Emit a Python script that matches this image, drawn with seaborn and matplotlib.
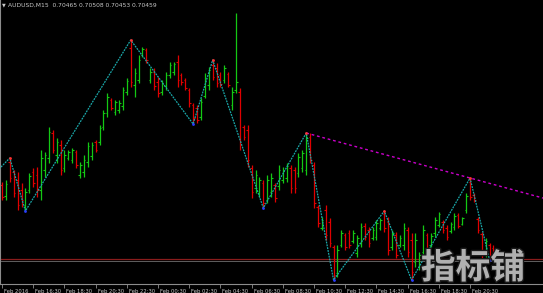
import matplotlib
matplotlib.use("Agg")
import matplotlib.pyplot as plt
import matplotlib.patheffects as pe
from matplotlib.transforms import ScaledTranslation
import numpy as np
import pandas as pd
import seaborn as sns

# ---------------- data (prices in points, 1 point = 0.00001) ----------------
POINT = 1e-5
bar_open = [70829, 70774, 70944, 70894, 70854, 70804, 70729, 70804, 70894, 70879,
            70804, 70904, 70964, 71089, 70979, 71029, 70914, 70964, 70954, 70994,
            70879, 70894, 70944, 70974, 71044, 71044, 71119, 71189, 71254, 71194,
            71204, 71224, 71294, 71514, 71329, 71354, 71479, 71504, 71354, 71394,
            71344, 71294, 71324, 71379, 71394, 71444, 71379, 71354, 71304, 71229,
            71214, 71169, 71274, 71329, 71429, 71414, 71379, 71354, 71384, 71229,
            71304, 71294, 71119, 71104, 70914, 70814, 70789, 70839, 70754, 70794,
            70829, 70824, 70854, 70864, 70914, 70904, 70889, 70914, 70904, 71069,
            70929, 70719, 70614, 70704, 70644, 70519, 70389, 70529, 70579, 70589,
            70549, 70489, 70539, 70624, 70604, 70564, 70569, 70614, 70684, 70644,
            70519, 70579, 70529, 70529, 70604, 70554, 70444, 70419, 70494, 70579,
            70529, 70589, 70629, 70644, 70614, 70599, 70619, 70679, 70634, 70704,
            70844, 70779, 70659, 70584, 70484, 70529, 70514, 70465]
bar_high = [70844, 70854, 70964, 70904, 70894, 70839, 70814, 70889, 70914, 70919,
            71004, 70994, 71119, 71104, 71064, 71054, 71004, 71004, 71014, 71004,
            70944, 70979, 71044, 71044, 71054, 71129, 71204, 71289, 71264, 71254,
            71254, 71319, 71364, 71554, 71414, 71479, 71519, 71514, 71414, 71414,
            71369, 71354, 71394, 71444, 71444, 71479, 71389, 71364, 71314, 71239,
            71229, 71264, 71389, 71419, 71454, 71439, 71394, 71429, 71394, 71319,
            71689, 71314, 71129, 71129, 70929, 70904, 70869, 70854, 70879, 70889,
            70839, 70929, 70919, 70939, 70929, 70919, 70989, 71004, 71089, 71089,
            70944, 70729, 70669, 70729, 70664, 70529, 70529, 70604, 70589, 70604,
            70604, 70579, 70639, 70639, 70619, 70619, 70654, 70664, 70699, 70669,
            70604, 70594, 70579, 70639, 70619, 70589, 70589, 70494, 70629, 70589,
            70589, 70669, 70694, 70654, 70629, 70644, 70689, 70689, 70669, 70789,
            70864, 70789, 70669, 70594, 70564, 70539, 70529, 70508]
bar_low = [70754, 70754, 70844, 70769, 70704, 70719, 70699, 70789, 70819, 70769,
           70754, 70869, 70939, 70989, 70939, 70879, 70894, 70954, 70939, 70914,
           70864, 70869, 70919, 70954, 70994, 71029, 71104, 71169, 71204, 71179,
           71189, 71204, 71279, 71319, 71269, 71339, 71469, 71439, 71339, 71304,
           71269, 71279, 71304, 71364, 71379, 71319, 71329, 71304, 71219, 71134,
           71139, 71154, 71264, 71304, 71354, 71319, 71319, 71339, 71319, 71204,
           71289, 71004, 71054, 70919, 70764, 70789, 70769, 70714, 70739, 70769,
           70744, 70804, 70839, 70844, 70789, 70789, 70869, 70894, 70879, 70939,
           70714, 70619, 70604, 70554, 70519, 70354, 70369, 70519, 70504, 70514,
           70539, 70469, 70519, 70554, 70519, 70554, 70554, 70604, 70594, 70479,
           70504, 70464, 70519, 70504, 70469, 70354, 70419, 70404, 70469, 70489,
           70519, 70569, 70619, 70589, 70554, 70589, 70604, 70614, 70629, 70689,
           70754, 70744, 70589, 70464, 70469, 70454, 70469, 70453]
bar_close = [70769, 70834, 70864, 70789, 70729, 70754, 70794, 70874, 70839, 70804,
             70964, 70979, 71094, 71004, 71044, 70904, 70979, 70994, 71004, 70929,
             70929, 70954, 71024, 71029, 71004, 71114, 71189, 71269, 71214, 71244,
             71239, 71304, 71349, 71344, 71389, 71454, 71509, 71454, 71394, 71324,
             71289, 71334, 71379, 71429, 71434, 71354, 71344, 71314, 71239, 71164,
             71154, 71244, 71364, 71404, 71369, 71339, 71334, 71414, 71329, 71294,
             71344, 71029, 71069, 70954, 70794, 70879, 70854, 70739, 70854, 70864,
             70764, 70904, 70904, 70924, 70814, 70814, 70969, 70989, 71064, 70954,
             70739, 70639, 70654, 70579, 70539, 70379, 70504, 70589, 70519, 70529,
             70589, 70564, 70619, 70569, 70539, 70604, 70639, 70654, 70614, 70504,
             70589, 70479, 70564, 70614, 70494, 70394, 70554, 70479, 70604, 70504,
             70574, 70654, 70684, 70604, 70569, 70634, 70674, 70624, 70664, 70774,
             70769, 70754, 70604, 70484, 70549, 70469, 70489, 70459]

# ZigZag pivots (bar index, price in points)
zz_index = [-3, 2, 6, 33, 49, 54, 67, 78, 85, 98, 105, 120, 125]
zz_price = [70864, 70964, 70699, 71554, 71134, 71454, 70714, 71089, 70354, 70699,
            70354, 70864, 70454]

# Trend line through two highs
trend_index = [78, 120]
trend_price = [71089, 70864]

# horizontal levels
red_level = 70459
gray_level = 70449

tick_positions = [0, 8, 16, 24, 32, 40, 48, 56, 64, 72, 80, 88, 96, 104, 112, 120]
tick_labels = ["Feb 2016", "Feb 16:30", "Feb 18:30", "Feb 20:30",
               "Feb 22:30", "Feb 00:30", "Feb 02:30", "Feb 04:30",
               "Feb 06:30", "Feb 08:30", "Feb 10:30", "Feb 12:30",
               "Feb 14:30", "Feb 16:30", "Feb 18:30", "Feb 20:30"]

title_text = "AUDUSD,M15  0.70465 0.70508 0.70453 0.70459"
watermark = "指标铺"

# ---------------- build frames ----------------
bars = pd.DataFrame({
    "idx": np.arange(len(bar_open)),
    "open": np.array(bar_open) * POINT,
    "high": np.array(bar_high) * POINT,
    "low": np.array(bar_low) * POINT,
    "close": np.array(bar_close) * POINT,
})
zz = pd.DataFrame({"idx": zz_index, "price": np.array(zz_price) * POINT})

XMIN, XMAX = -0.513, 138.7
slope = (trend_price[1] - trend_price[0]) / (trend_index[1] - trend_index[0])
trend = pd.DataFrame({
    "idx": [trend_index[0], XMAX + 1],
    "price": np.array([trend_price[0], trend_price[0] + slope * (XMAX + 1 - trend_index[0])]) * POINT,
})

# ---------------- style ----------------
sns.set_theme(style="dark")
plt.rcParams["font.family"] = ["DejaVu Sans"]
plt.rcParams["axes.facecolor"] = "black"
plt.rcParams["figure.facecolor"] = "black"

fig = plt.figure(figsize=(5.43, 2.93), dpi=100, facecolor="black")
ax = fig.add_axes([0, 9 / 293, 1, 284 / 293], facecolor="black")

GREEN = "#14c814"
RED = "#e00000"

# horizontal levels
ax.axhline(red_level * POINT, color="#8a1c1c", lw=0.9, zorder=1)
ax.axhline(gray_level * POINT, color="#6e6e6e", lw=0.6, zorder=1)

# OHLC bars
up = bars["close"] >= bars["open"]
for mask, col in ((up, GREEN), (~up, RED)):
    b = bars[mask]
    ax.vlines(b["idx"], b["low"], b["high"], color=col, lw=0.9, zorder=2)
    ax.hlines(b["open"], b["idx"] - 0.4, b["idx"], color=col, lw=0.8, zorder=2)
    ax.hlines(b["close"], b["idx"], b["idx"] + 0.4, color=col, lw=0.8, zorder=2)

# zigzag (dotted, MT4 style)
sns.lineplot(data=zz, x="idx", y="price", sort=False, ax=ax, color="#1aa8aa",
             lw=0.9, linestyle=(0, (1.5, 0.8)), zorder=3, estimator=None)
lows = zz.iloc[[2, 4, 6, 8, 10, 12]]
highs = zz.iloc[[1, 3, 5, 7, 9, 11]]
sns.scatterplot(data=lows, x="idx", y="price", ax=ax, color="#2a3cff", s=4,
                linewidth=0, zorder=4)
sns.scatterplot(data=highs, x="idx", y="price", ax=ax, color="#ff3030", s=4,
                linewidth=0, zorder=4)

# trend line
sns.lineplot(data=trend, x="idx", y="price", ax=ax, color="#cc00cc", lw=1.0,
             linestyle=(0, (2, 2)), zorder=3, estimator=None)

ax.set_xlim(XMIN, XMAX)
ax.set_ylim(70334 * POINT, 71754 * POINT)
ax.set_xlabel("")
ax.set_ylabel("")
ax.set_yticks([])
ax.grid(False)

for s in ("top", "right"):
    ax.spines[s].set_visible(False)
for s in ("left", "bottom"):
    ax.spines[s].set_visible(True)
    ax.spines[s].set_color("#8c8c8c")
    ax.spines[s].set_linewidth(0.8)

ax.set_xticks(tick_positions)
ax.set_xticklabels(tick_labels)
ax.tick_params(axis="x", colors="#8c8c8c", length=3, width=0.6, direction="out",
               pad=0.3, labelsize=3.8, labelcolor="#c8c8c8", bottom=True)
offset = ScaledTranslation(2.0 / 100, 0, fig.dpi_scale_trans)
for t in ax.get_xticklabels():
    t.set_ha("left")
    t.set_transform(t.get_transform() + offset)

# title
fig.text(2 / 543, 1 - 5 / 293, "▼", color="#c8c8c8", fontsize=3.5, va="center", ha="left")
fig.text(8 / 543, 1 - 5 / 293, title_text, color="#c8c8c8", fontsize=4.3,
         va="center", ha="left")

# watermark
fig.text(473 / 543, (293 - 268) / 293, watermark, color="#b0b0b0", fontsize=25,
         fontweight="bold", family=["Noto Sans CJK SC", "DejaVu Sans"],
         ha="center", va="center", zorder=10,
         path_effects=[pe.withStroke(linewidth=2, foreground="#1a1a1a")])

fig.savefig("out.png", dpi=100, facecolor="black")
